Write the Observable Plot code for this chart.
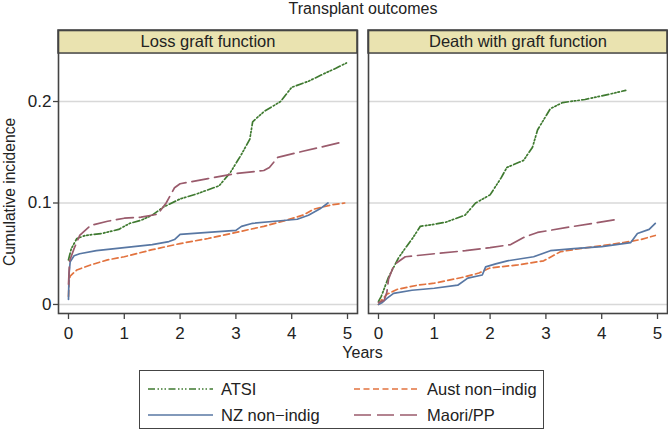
<!DOCTYPE html>
<html>
<head>
<meta charset="utf-8">
<script src="https://cdn.jsdelivr.net/npm/d3@7"></script>
<script src="https://cdn.jsdelivr.net/npm/@observablehq/plot@0.6"></script>
<style>
  html, body { margin: 0; padding: 0; background: #fff; }
  #wrap { position: relative; width: 668px; height: 430px; font-family: "Liberation Sans", Arial, sans-serif; color: #222; overflow: hidden; }
  #title { position: absolute; left: 0; width: 726px; top: 0px; text-align: center; font-size: 16px; line-height: 18px; }
  #chart { position: absolute; left: 0; top: 20px; }
  #ylab { position: absolute; left: 10px; top: 192px; transform: translate(-50%, -50%) rotate(-90deg); font-size: 15.6px; white-space: nowrap; }
  #xlab { position: absolute; left: 0; width: 725px; top: 344px; text-align: center; font-size: 16px; line-height: 18px; }
  #legend { position: absolute; left: 139px; top: 370px; width: 405px; height: 59px; border: 1.5px solid #444; box-sizing: border-box; background: #fff; }
</style>
</head>
<body>
<div id="wrap">
  <div id="title">Transplant outcomes</div>
  <div id="chart"></div>
  <div id="ylab">Cumulative incidence</div>
  <div id="xlab">Years</div>
  <div id="legend"></div>
</div>
<script>
// ---- data (years, cumulative incidence) ----
const panels = ["Loss graft function", "Death with graft function"];
const seriesNames = ["ATSI", "Aust non-indig", "NZ non-indig", "Maori/PP"];
const xTicks = [0, 1, 2, 3, 4, 5];
const yTicks = [0, 0.1, 0.2];
const yTickLabels = ["0", "0.1", "0.2"];

const atsiLoss = [[0,0.044],[0.05,0.055],[0.15,0.065],[0.3,0.068],[0.6,0.070],[0.9,0.074],[1.1,0.080],[1.3,0.083],[1.5,0.088],[1.7,0.096],[2.0,0.104],[2.3,0.109],[2.7,0.117],[2.9,0.130],[3.1,0.148],[3.25,0.163],[3.3,0.180],[3.5,0.190],[3.8,0.200],[4.0,0.214],[4.3,0.220],[4.6,0.228],[4.8,0.233],[4.98,0.238]];
const austLoss = [[0,0.008],[0.01,0.022],[0.03,0.028],[0.15,0.034],[0.4,0.039],[0.7,0.044],[1.0,0.047],[1.5,0.054],[2.0,0.060],[2.5,0.065],[3.0,0.071],[3.5,0.077],[3.9,0.083],[4.2,0.088],[4.4,0.094],[4.7,0.098],[4.95,0.100]];
const nzLoss = [[0,0.005],[0.01,0.030],[0.03,0.042],[0.1,0.048],[0.2,0.050],[0.5,0.053],[1.0,0.056],[1.5,0.059],[1.8,0.062],[1.9,0.064],[2.0,0.069],[2.5,0.071],[3.0,0.073],[3.1,0.077],[3.3,0.080],[3.7,0.082],[4.1,0.084],[4.3,0.088],[4.5,0.094],[4.65,0.100]];
const maoriLoss = [[0,0.020],[0.02,0.043],[0.1,0.055],[0.2,0.068],[0.4,0.078],[0.7,0.082],[1.0,0.085],[1.3,0.086],[1.6,0.089],[1.75,0.100],[1.9,0.115],[2.0,0.119],[2.5,0.124],[3.0,0.129],[3.5,0.132],[3.6,0.135],[3.75,0.145],[4.2,0.151],[4.6,0.156],[4.9,0.160]];

const atsiDeath = [[0,0.003],[0.05,0.008],[0.18,0.027],[0.36,0.046],[0.5,0.057],[0.62,0.066],[0.75,0.077],[1.0,0.079],[1.2,0.081],[1.55,0.088],[1.74,0.100],[2.0,0.108],[2.2,0.125],[2.3,0.135],[2.6,0.142],[2.76,0.155],[2.85,0.172],[3.08,0.193],[3.3,0.199],[3.7,0.202],[4.2,0.208],[4.43,0.211]];
const austDeath = [[0,0.000],[0.05,0.004],[0.15,0.010],[0.34,0.015],[0.7,0.019],[1.0,0.021],[1.53,0.027],[1.8,0.031],[2.0,0.036],[2.5,0.039],[2.96,0.043],[3.26,0.052],[3.6,0.055],[4.0,0.058],[4.39,0.061],[4.7,0.064],[4.96,0.068]];
const nzDeath = [[0,0.000],[0.07,0.002],[0.15,0.006],[0.27,0.011],[0.6,0.014],[1.0,0.016],[1.42,0.019],[1.6,0.026],[1.86,0.029],[1.92,0.037],[2.1,0.040],[2.31,0.043],[2.78,0.047],[3.08,0.053],[3.5,0.055],[4.0,0.057],[4.52,0.061],[4.64,0.070],[4.85,0.074],[4.96,0.080]];
const maoriDeath = [[0,0.002],[0.1,0.004],[0.15,0.012],[0.18,0.025],[0.25,0.035],[0.3,0.040],[0.48,0.047],[1.0,0.050],[1.56,0.053],[2.0,0.056],[2.37,0.059],[2.6,0.066],[2.85,0.071],[3.5,0.077],[4.3,0.084]];

// ---- styles ----
const styles = {
  "ATSI":           {stroke: "#3f7a30", dash: "7,2.5,1.5,2,1.5,2,1.5,2.5"},
  "Aust non-indig": {stroke: "#e2733f", dash: "6,3.5"},
  "NZ non-indig":   {stroke: "#5877a3", dash: null},
  "Maori/PP":       {stroke: "#9a5b6c", dash: "17,6"}
};

const rows = (pairs, series, panel) => pairs.map(([t, v]) => ({t, v, series, panel}));
const seriesData = {
  "ATSI": [...rows(atsiLoss, "ATSI", panels[0]), ...rows(atsiDeath, "ATSI", panels[1])],
  "Aust non-indig": [...rows(austLoss, "Aust non-indig", panels[0]), ...rows(austDeath, "Aust non-indig", panels[1])],
  "NZ non-indig": [...rows(nzLoss, "NZ non-indig", panels[0]), ...rows(nzDeath, "NZ non-indig", panels[1])],
  "Maori/PP": [...rows(maoriLoss, "Maori/PP", panels[0]), ...rows(maoriDeath, "Maori/PP", panels[1])]
};

const xDom = [-0.179, 5.179];
const yDom = [-0.0089, 0.270];
const stripY1 = 0.2473;

const lineMarks = seriesNames.map(s => Plot.line(seriesData[s], {
  x: "t", y: "v", z: "panel", fx: "panel",
  stroke: styles[s].stroke, strokeWidth: 1.7,
  strokeDasharray: styles[s].dash || undefined,
  curve: "linear"
}));

const chart = Plot.plot({
  width: 668,
  height: 340,
  marginLeft: 58,
  marginRight: 1,
  marginTop: 10,
  marginBottom: 47,
  style: {fontSize: "17px", fontFamily: "'Liberation Sans', Arial, sans-serif", color: "#222", background: "transparent", overflow: "visible"},
  fx: {domain: panels, paddingInner: 0.036, paddingOuter: 0, axis: null, label: null},
  x: {domain: xDom, label: null},
  y: {domain: yDom, label: null},
  marks: [
    Plot.ruleY(yTicks, {stroke: "#d8d8d8", strokeWidth: 1.5}),
    ...lineMarks,
    Plot.rect(panels, {fx: d => d, x1: xDom[0], x2: xDom[1], y1: stripY1, y2: yDom[1], fill: "#eae3b0", stroke: "#444", strokeWidth: 1.5}),
    Plot.text(panels, {fx: d => d, x: (xDom[0] + xDom[1]) / 2, y: (stripY1 + yDom[1]) / 2, text: d => d, fontSize: 16.5, fill: "#222"}),
    Plot.frame({stroke: "#444", strokeWidth: 1.6}),
    Plot.axisX({ticks: xTicks, tickSize: 6, tickPadding: 7, label: null, stroke: "#444", strokeWidth: 1.3, tickFormat: d => String(d)}),
    Plot.axisY({ticks: yTicks, tickSize: 5, tickPadding: 2, label: null, stroke: "#444", strokeWidth: 1.3, tickFormat: d => yTickLabels[yTicks.indexOf(d)]})
  ]
});
document.getElementById("chart").appendChild(chart);

// ---- legend ----
const legendPos = [
  {s: "ATSI", x: 8, y: 18},
  {s: "Aust non-indig", x: 214, y: 18},
  {s: "NZ non-indig", x: 8, y: 44},
  {s: "Maori/PP", x: 214, y: 44}
];
const ns = "http://www.w3.org/2000/svg";
const lsvg = document.createElementNS(ns, "svg");
lsvg.setAttribute("width", 402);
lsvg.setAttribute("height", 56);
lsvg.style.position = "absolute";
lsvg.style.left = "0px";
lsvg.style.top = "0px";
legendPos.forEach(({s, x, y}) => {
  const ln = document.createElementNS(ns, "line");
  ln.setAttribute("x1", x); ln.setAttribute("x2", x + 65);
  ln.setAttribute("y1", y); ln.setAttribute("y2", y);
  ln.setAttribute("stroke", styles[s].stroke);
  ln.setAttribute("stroke-width", 1.7);
  if (styles[s].dash) ln.setAttribute("stroke-dasharray", styles[s].dash);
  lsvg.appendChild(ln);
  const tx = document.createElementNS(ns, "text");
  tx.setAttribute("x", x + 73);
  tx.setAttribute("y", y);
  tx.setAttribute("dy", "0.36em");
  tx.setAttribute("font-size", 16.5);
  tx.setAttribute("font-family", "'Liberation Sans', Arial, sans-serif");
  tx.setAttribute("fill", "#222");
  tx.textContent = s.replace("-", "\u2212");
  lsvg.appendChild(tx);
});
document.getElementById("legend").appendChild(lsvg);
</script>
</body>
</html>
